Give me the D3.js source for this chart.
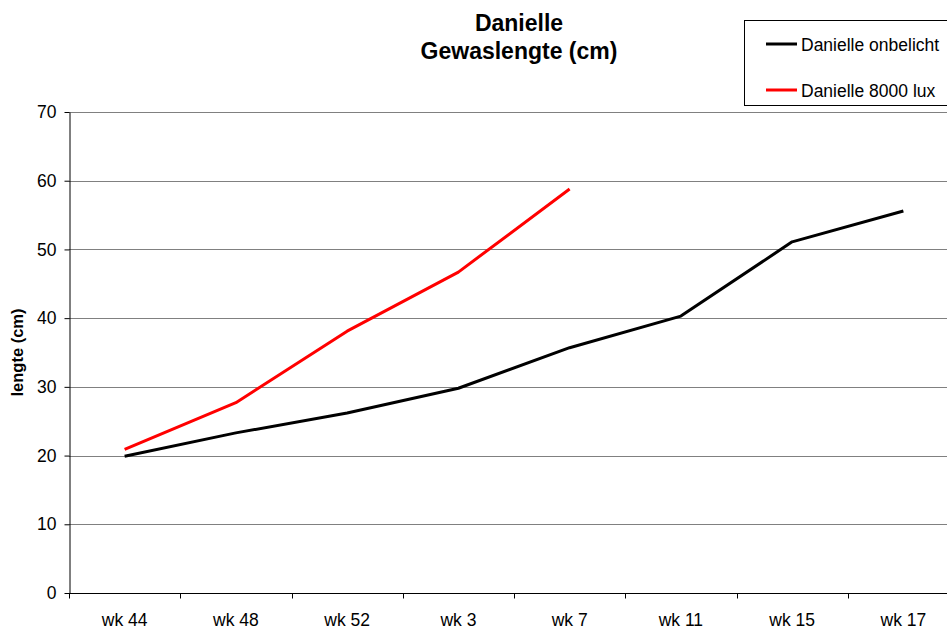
<!DOCTYPE html>
<html>
<head>
<meta charset="utf-8">
<script src="https://cdn.jsdelivr.net/npm/d3@7"></script>
<style>
  html, body { margin: 0; padding: 0; background: #fff; overflow: hidden; }
  svg { display: block; font-family: "Liberation Sans", Arial, sans-serif; }
</style>
</head>
<body>
<svg id="chart" width="947" height="628"></svg>
<script>
// Weekly measurements of plant length (cm)
const weeks = ["wk 44", "wk 48", "wk 52", "wk 3", "wk 7", "wk 11", "wk 15", "wk 17"];
const onbelicht = [19.9, 23.3, 26.2, 29.8, 35.7, 40.3, 51.1, 55.6];
const lux8000 = [20.9, 27.7, 38.1, 46.7, 58.8];
const yTicks = [0, 10, 20, 30, 40, 50, 60, 70];
const seriesNames = ["Danielle onbelicht", "Danielle 8000 lux"];
const seriesColors = ["#000000", "#ff0000"];

const svg = d3.select("#chart");
const plotL = 69, plotR = 959, plotT = 112, plotB = 593;
const fontPx = "17.5px";

const x = d3.scaleBand().domain(weeks).range([plotL, plotR]);
const y = d3.scaleLinear().domain([0, 70]).range([plotB, plotT]);

// horizontal gridlines
svg.append("g")
  .selectAll("line")
  .data(yTicks.filter(d => d > 0))
  .join("line")
  .attr("x1", plotL).attr("x2", plotR)
  .attr("y1", d => Math.round(y(d)) + 0.5).attr("y2", d => Math.round(y(d)) + 0.5)
  .attr("stroke", "#808080").attr("stroke-width", 1);

// y axis
const yAxis = svg.append("g")
  .attr("transform", `translate(${plotL + 0.5},0)`)
  .call(d3.axisLeft(y).tickValues(yTicks).tickSize(5).tickPadding(8).tickSizeOuter(0));
yAxis.select(".domain").attr("stroke", "#000");
yAxis.selectAll(".tick line").attr("stroke", "#000");
yAxis.selectAll("text").attr("font-size", fontPx).attr("fill", "#000")
  .attr("font-family", "Liberation Sans, Arial, sans-serif");

// x axis with tick marks at category boundaries
const xg = svg.append("g").attr("transform", `translate(0,${plotB + 0.5})`);
xg.append("line").attr("x1", plotL).attr("x2", plotR).attr("stroke", "#000");
xg.selectAll("line.tk")
  .data(weeks)
  .join("line")
  .attr("class", "tk")
  .attr("x1", d => Math.round(x(d)) + 0.5).attr("x2", d => Math.round(x(d)) + 0.5)
  .attr("y1", 0).attr("y2", 5)
  .attr("stroke", "#000");
xg.selectAll("text")
  .data(weeks)
  .join("text")
  .attr("x", d => x(d) + x.bandwidth() / 2)
  .attr("y", 32)
  .attr("text-anchor", "middle")
  .attr("font-size", fontPx)
  .attr("fill", "#000")
  .text(d => d);

// y axis title
svg.append("text")
  .attr("transform", `translate(23,${(plotT + plotB) / 2}) rotate(-90)`)
  .attr("text-anchor", "middle")
  .attr("font-size", "16.5px")
  .attr("font-weight", "bold")
  .text("lengte (cm)");

// chart title
const title = svg.append("text")
  .attr("text-anchor", "middle")
  .attr("font-size", "23px")
  .attr("font-weight", "bold");
title.append("tspan").attr("x", 519).attr("y", 31).text("Danielle");
title.append("tspan").attr("x", 519).attr("y", 59).text("Gewaslengte (cm)");

// lines
const line = d3.line()
  .x((d, i) => x(weeks[i]) + x.bandwidth() / 2)
  .y(d => y(d));

[onbelicht, lux8000].forEach((vals, k) => {
  svg.append("path")
    .datum(vals)
    .attr("fill", "none")
    .attr("stroke", seriesColors[k])
    .attr("stroke-width", 3)
    .attr("stroke-linejoin", "round")
    .attr("d", line);
});

// legend
const lg = svg.append("g");
lg.append("rect")
  .attr("x", 744.5).attr("y", 20.5)
  .attr("width", 220).attr("height", 85)
  .attr("fill", "#fff").attr("stroke", "#000").attr("stroke-width", 1);
seriesNames.forEach((name, k) => {
  const ly = 44 + k * 46;
  lg.append("line")
    .attr("x1", 766).attr("x2", 797)
    .attr("y1", ly).attr("y2", ly)
    .attr("stroke", seriesColors[k]).attr("stroke-width", 3);
  lg.append("text")
    .attr("x", 801).attr("y", ly + 6.5)
    .attr("font-size", fontPx)
    .text(name);
});
</script>
</body>
</html>
